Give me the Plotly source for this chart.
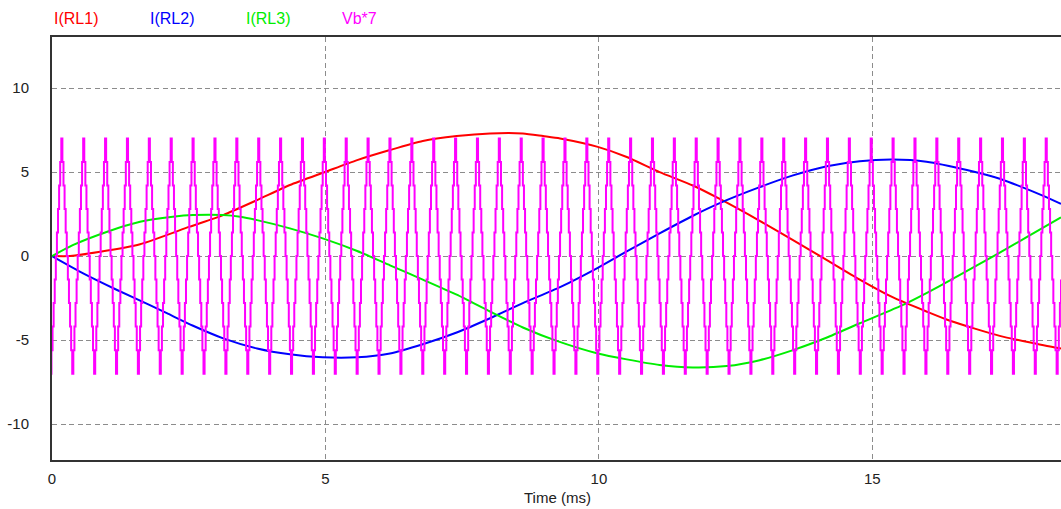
import plotly.graph_objects as go

# ---------------- data ----------------
# I(RL1)
t_rl1 = [0, 0.33, 0.88, 1.61, 2.52, 3.13, 3.75, 4.35, 4.99, 5.58, 6.18, 6.78, 7.40, 8.01, 8.61,
         8.98, 9.29, 9.98, 10.51, 11.11, 11.72, 12.21, 12.94, 13.55, 14.17, 14.77, 15.37, 15.99,
         16.42, 17.33, 18.37, 18.45]
i_rl1 = [0, 0.0, 0.25, 0.7, 1.75, 2.44, 3.33, 4.23, 5.0, 5.71, 6.31, 6.85, 7.14, 7.3, 7.3,
         7.14, 7.0, 6.5, 5.9, 5.0, 4.2, 3.4, 2.1, 0.95, -0.24, -1.4, -2.45, -3.3,
         -3.85, -4.75, -5.46, -5.5]

# I(RL2)
t_rl2 = [0, 0.57, 1.19, 1.79, 2.10, 2.58, 3.13, 3.75, 4.35, 4.95, 5.58, 6.18, 6.78, 7.40, 8.01,
         8.61, 9.29, 9.98, 10.51, 11.11, 11.72, 12.21, 12.94, 13.55, 14.17, 14.77, 15.37, 15.99,
         16.73, 17.33, 17.93, 18.37, 18.45]
i_rl2 = [0, -1.03, -2.02, -2.92, -3.4, -4.15, -4.9, -5.5, -5.85, -6.03, -6.03, -5.8, -5.25, -4.55, -3.7,
         -2.8, -1.85, -0.7, 0.28, 1.35, 2.4, 3.15, 4.1, 4.8, 5.35, 5.65, 5.75, 5.62,
         5.12, 4.6, 3.85, 3.23, 3.1]

# I(RL3)
t_rl3 = [0, 0.38, 1.01, 1.61, 2.21, 2.58, 3.13, 3.44, 3.75, 4.35, 4.95, 5.58, 6.18, 6.78, 7.40,
         8.01, 8.61, 9.23, 9.98, 10.51, 11.11, 11.72, 12.34, 12.94, 13.55, 14.17, 14.77, 15.50,
         15.99, 16.42, 17.33, 18.37, 18.45]
i_rl3 = [0, 0.65, 1.45, 2.04, 2.34, 2.44, 2.44, 2.34, 2.14, 1.65, 1.05, 0.3, -0.55, -1.4, -2.3,
         -3.3, -4.25, -5.05, -5.8, -6.15, -6.48, -6.63, -6.55, -6.2, -5.6, -4.85, -4.0, -3.0,
         -2.2, -1.45, 0.2, 2.15, 2.3]

# Vb*7 : stepped waveform, levels of one cycle
vb_levels = [0.0, 1.4, 2.8, 4.2, 5.6, 7.0, 5.6, 4.2, 2.8, 1.4,
             0.0, -1.4, -2.8, -4.2, -5.6, -7.0, -5.6, -4.2, -2.8, -1.4]
vb_period_ms = 0.4
vb_first_step_ms = 0.07 - 0.4   # start of the first listed level (one cycle before plot start)
t_end_ms = 18.45

series_names = ["I(RL1)", "I(RL2)", "I(RL3)", "Vb*7"]
series_colors = ["#ff0000", "#0000ff", "#00ee00", "#ff00ff"]
x_ticks = [0, 5, 10, 15]
x_tick_text = ["0", "5", "10", "15"]
y_ticks = [-10, -5, 0, 5, 10]
y_tick_text = ["-10", "-5", "0", "5", "10"]

# build the stepped trace from the repeated cycle
step = vb_period_ms / len(vb_levels)
t_vb, v_vb = [], []
k = 0
while True:
    tk = vb_first_step_ms + k * step
    if tk > t_end_ms + step:
        break
    t_vb.append(tk)
    v_vb.append(vb_levels[k % len(vb_levels)])
    k += 1

FONT = "Liberation Sans, Arial, sans-serif"

fig = go.Figure()
for t, v, name, col in [(t_rl1, i_rl1, series_names[0], series_colors[0]),
                        (t_rl2, i_rl2, series_names[1], series_colors[1]),
                        (t_rl3, i_rl3, series_names[2], series_colors[2])]:
    fig.add_trace(go.Scatter(x=t, y=v, name=name, mode="lines",
                             line=dict(color=col, width=2, shape="spline", smoothing=0.6)))
fig.add_trace(go.Scatter(x=t_vb, y=v_vb, name=series_names[3], mode="lines",
                         line=dict(color=series_colors[3], width=2, shape="hv")))

W, H = 1061, 509
L, R, T, B = 52, 0, 37, 49
pw, ph = W - L - R, H - T - B

# legend-like labels at top
label_px = [52, 148, 244, 340]
for name, col, px in zip(series_names, series_colors, label_px):
    fig.add_annotation(text=name, xref="paper", yref="paper",
                       x=(px - L) / pw, y=1 + (T - 18) / ph,
                       xanchor="left", yanchor="middle", showarrow=False,
                       font=dict(family=FONT, size=16, color=col))

fig.add_annotation(text="Time (ms)", xref="paper", yref="paper",
                   x=(557 - L) / pw, y=-(497 - (H - B)) / ph,
                   xanchor="center", yanchor="middle", showarrow=False,
                   font=dict(family=FONT, size=15, color="#222"))

fig.update_layout(
    width=W, height=H,
    margin=dict(l=L, r=R, t=T, b=B, pad=0),
    paper_bgcolor="white", plot_bgcolor="white",
    showlegend=False,
    font=dict(family=FONT, size=15, color="#222"),
    xaxis=dict(range=[0, t_end_ms], tickvals=x_ticks, ticktext=x_tick_text, showgrid=True,
               gridcolor="#8c8c8c", gridwidth=1.3, griddash="5px,3.5px",
               showline=True, linecolor="#333", linewidth=2, mirror=True,
               zeroline=False, ticks="", ticklabelstandoff=4),
    yaxis=dict(range=[-12.14, 13.04], tickvals=y_ticks, ticktext=y_tick_text, showgrid=True,
               gridcolor="#8c8c8c", gridwidth=1.3, griddash="5px,3.5px",
               showline=True, linecolor="#333", linewidth=2, mirror=False,
               zeroline=False, ticks="", ticklabelstandoff=18),
)

fig.write_html("out.html", config={"displayModeBar": False},
               post_script="document.body.style.margin='0';document.body.style.overflow='hidden';")
